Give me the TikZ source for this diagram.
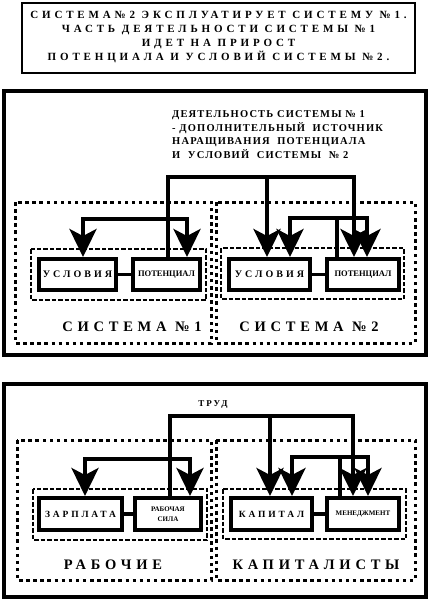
\documentclass[tikz,border=0pt]{standalone}
\usepackage{fontspec}
\setmainfont{Liberation Serif}
\newfontfamily\spTitle[LetterSpace=35]{Liberation Serif}
\newfontfamily\spDesc[LetterSpace=11]{Liberation Serif}
\newfontfamily\spItem[LetterSpace=30]{Liberation Serif}
\newfontfamily\spTrud[LetterSpace=22]{Liberation Serif}
\newfontfamily\spBig[LetterSpace=33]{Liberation Serif}
\usetikzlibrary{arrows.meta}
\tikzset{
  titlebox/.style={draw, line width=2pt},
  frame/.style={draw, line width=3.5pt},
  sysbox/.style={draw, line width=3pt, dash pattern=on 3.5pt off 3.6pt},
  inbox/.style={draw, line width=1.5pt, dash pattern=on 4.5pt off 2pt},
  item/.style={draw, line width=4pt, inner sep=0pt, minimum height=31pt},
  itemsp/.style={item, font=\spItem\bfseries\fontsize{10}{11}\selectfont},
  itemsm/.style={item, font=\bfseries\fontsize{8.5}{9}\selectfont, align=center},
  link/.style={line width=3.8pt},
  tip/.tip={Stealth[length=28pt, width=27pt, inset=7pt]},
  arr/.style={link, -tip},
  arr2/.style={link, tip-tip},
  biglabel/.style={font=\spBig\bfseries\fontsize{14.5}{16}\selectfont, inner sep=0pt}
}
\begin{document}
\begin{tikzpicture}[x=1pt, y=-1pt]
\useasboundingbox (0,0) rectangle (430,600);
% ---------- title ----------
\draw[titlebox] (22,3) rectangle (415,73);
\node (title) [align=center, inner sep=0pt, font=\spTitle\bfseries\fontsize{11}{14}\selectfont] at (218.5,37)
 {СИСТЕМА№2 ЭКСПЛУАТИРУЕТ СИСТЕМУ №1.\\ЧАСТЬ ДЕЯТЕЛЬНОСТИ СИСТЕМЫ №1\\ИДЕТ НА ПРИРОСТ\\ПОТЕНЦИАЛА И УСЛОВИЙ СИСТЕМЫ №2.};
% ---------- panel 2 ----------
\draw[frame] (4,91) rectangle (426,355);
\node (desc) [anchor=north west, align=left, inner sep=0pt, font=\spDesc\bfseries\fontsize{10.5}{13.5}\selectfont] at (172,110.5)
 {ДЕЯТЕЛЬНОСТЬ СИСТЕМЫ № 1\\- ДОПОЛНИТЕЛЬНЫЙ\ \ ИСТОЧНИК\\НАРАЩИВАНИЯ\ \ ПОТЕНЦИАЛА\\И\ \ УСЛОВИЙ\ \ СИСТЕМЫ\ \ № 2};
\draw[sysbox] (15,202) rectangle (211,343);
\draw[sysbox] (216,202) rectangle (415,343);
\draw[inbox] (31,249) rectangle (206,300);
\draw[inbox] (221,248) rectangle (404,299);
\node (c1) [itemsp, minimum width=77pt] at (77.5,274.5) {УСЛОВИЯ};
\node (p1) [itemsm, minimum width=67pt] at (166.5,274.5) {ПОТЕНЦИАЛ};
\node (c2) [itemsp, minimum width=81pt] at (269.5,274.5) {УСЛОВИЯ};
\node (p2) [itemsm, minimum width=72pt] at (363,274.5) {ПОТЕНЦИАЛ};
\draw[link] (c1.east) -- (p1.west);
\draw[link] (c2.east) -- (p2.west);
\node (s1) [biglabel] at (132,327) {СИСТЕМА №1};
\node (s2) [biglabel] at (309,327) {СИСТЕМА №2};
\coordinate (T1L) at (168,177);
\coordinate (T1M) at (267,177);
\coordinate (T1R) at (354,177);
\coordinate (L1a) at (83,219);
\coordinate (L1b) at (187,219);
\coordinate (R1a) at (290,218);
\coordinate (R1m) at (337,218);
\coordinate (R1b) at (367,218);
\draw[arr] (p1.north -| T1L) -- (T1L) -- (T1R) -- (p2.north -| T1R);
\draw[arr] (T1M) -- (c2.north -| T1M);
\draw[arr2] (c1.north -| L1a) -- (L1a) -- (L1b) -- (p1.north -| L1b);
\draw[arr2] (c2.north -| R1a) -- (R1a) -- (R1b) -- (p2.north -| R1b);
\draw[link] (p2.north -| R1m) -- (R1m);
% ---------- panel 3 ----------
\draw[frame] (4,384) rectangle (426,597);
\node (trud) [font=\spTrud\bfseries\fontsize{9}{10}\selectfont, inner sep=0pt] at (213,405) {ТРУД};
\draw[sysbox] (17,440) rectangle (211,580);
\draw[sysbox] (216,440) rectangle (415,580);
\draw[inbox] (33,489) rectangle (207,540);
\draw[inbox] (223,489) rectangle (406,539);
\node (z) [itemsp, minimum width=83pt, minimum height=32pt, font=\spItem\bfseries\fontsize{9.5}{11}\selectfont] at (80.5,514) {ЗАРПЛАТА};
\node (r) [itemsm, minimum width=66pt, minimum height=32pt, font=\bfseries\fontsize{7}{10}\selectfont] at (168,514) {РАБОЧАЯ\\СИЛА};
\node (k) [itemsp, minimum width=81pt, minimum height=32pt, font=\spItem\bfseries\fontsize{9.5}{11}\selectfont] at (271.5,514) {КАПИТАЛ};
\node (m) [itemsm, minimum width=72pt, minimum height=32pt, font=\bfseries\fontsize{7}{9}\selectfont] at (363,514) {МЕНЕДЖМЕНТ};
\draw[link] (z.east) -- (r.west);
\draw[link] (k.east) -- (m.west);
\node (wk) [biglabel] at (113,565) {РАБОЧИЕ};
\node (cap) [biglabel] at (316,565) {КАПИТАЛИСТЫ};
\coordinate (T2L) at (170,416);
\coordinate (T2M) at (270,416);
\coordinate (T2R) at (353,416);
\coordinate (L2a) at (85,459);
\coordinate (L2b) at (190,459);
\coordinate (R2a) at (292,457);
\coordinate (R2m) at (340,457);
\coordinate (R2b) at (368,457);
\draw[arr] (r.north -| T2L) -- (T2L) -- (T2R) -- (m.north -| T2R);
\draw[arr] (T2M) -- (k.north -| T2M);
\draw[arr2] (z.north -| L2a) -- (L2a) -- (L2b) -- (r.north -| L2b);
\draw[arr2] (k.north -| R2a) -- (R2a) -- (R2b) -- (m.north -| R2b);
\draw[link] (m.north -| R2m) -- (R2m);
\end{tikzpicture}
\end{document}
